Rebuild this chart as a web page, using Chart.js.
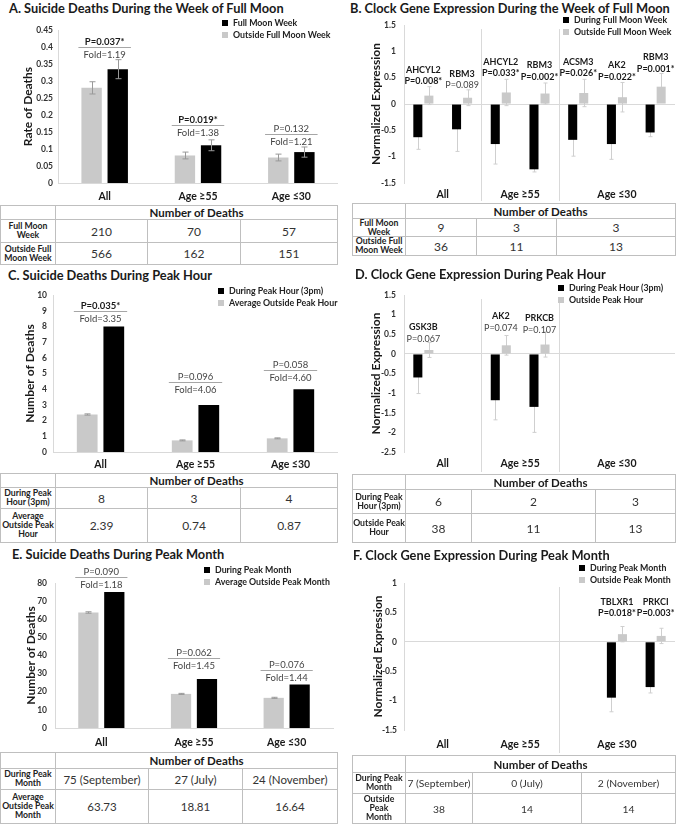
<!DOCTYPE html>
<html>
<head>
<meta charset="utf-8">
<script src="https://cdn.jsdelivr.net/npm/chart.js@4.4.1/dist/chart.umd.min.js"></script>
<style>
  body { margin: 0; background: #fff; }
  #page { position: relative; width: 676px; height: 826px; overflow: hidden; font-family: Lato, 'Open Sans', sans-serif; color: #1a1a1a; }
  .title { position: absolute; font-weight: bold; font-size: 12.8px; line-height: 14px; white-space: nowrap; }
  .box { position: absolute; }
  .legend { position: absolute; font-size: 8.8px; font-weight: bold; line-height: 11.5px; white-space: nowrap; color: #222; }
  .legend i { display: inline-block; width: 6px; height: 6px; margin-right: 5px; }
  table.tbl { position: absolute; border-collapse: collapse; table-layout: fixed; }
  table.tbl td { border: 1px solid #bfbfbf; padding: 0; text-align: center; vertical-align: middle; overflow: hidden; white-space: nowrap; }
  td.rl { font-weight: bold; font-size: 8.7px; line-height: 8.7px; color: #222; }
  td.hd { font-weight: bold; font-size: 11.5px; }
  td.num { font-size: 12px; color: #333; }
</style>
</head>
<body>
<div id="page"></div>
<script>
// --- dados ---
const groups = ['All', 'Age ≥55', 'Age ≤30'];

// A. semana de lua cheia
const moonOutsideRate = [0.28, 0.081, 0.075];
const moonOutsideErr = [0.018, 0.01, 0.01];
const moonWeekRate = [0.335, 0.111, 0.091];
const moonWeekErr = [0.028, 0.016, 0.015];
const moonP = ['P=0.037*', 'P=0.019*', 'P=0.132'];
const moonFold = ['Fold=1.19', 'Fold=1.38', 'Fold=1.21'];
const moonBracket = [0.40, 0.172, 0.143];
const moonDeathsWeek = ['210', '70', '57'];
const moonDeathsOutside = ['566', '162', '151'];

// B. genes, lua cheia
const moonGenes = ['AHCYL2', 'RBM3', 'AHCYL2', 'RBM3', 'ACSM3', 'AK2', 'RBM3'];
const moonGeneDuring = [-0.63, -0.48, -0.76, -1.24, -0.68, -0.76, -0.54];
const moonGeneDuringErr = [0.23, 0.42, 0.38, 0.05, 0.31, 0.29, 0.08];
const moonGeneOutside = [0.16, 0.12, 0.22, 0.2, 0.21, 0.13, 0.33];
const moonGeneOutsideErr = [0.17, 0.15, 0.25, 0.2, 0.26, 0.28, 0.25];
const moonGeneP = ['P=0.008*', 'P=0.089', 'P=0.033*', 'P=0.002*', 'P=0.026*', 'P=0.022*', 'P=0.001*'];
const moonGenePLevel = [0.43, 0.355, 0.58, 0.52, 0.58, 0.52, 0.67];
const moonGeneDeathsWeek = ['9', '3', '3'];
const moonGeneDeathsOutside = ['36', '11', '13'];

// C. hora de pico
const hourPeak = [8, 3, 4];
const hourOutside = [2.39, 0.74, 0.87];
const hourOutsideErr = [0.04, 0.03, 0.03];
const hourP = ['P=0.035*', 'P=0.096', 'P=0.058'];
const hourFold = ['Fold=3.35', 'Fold=4.06', 'Fold=4.60'];
const hourBracket = [8.98, 4.46, 5.22];
const hourDeathsPeak = ['8', '3', '4'];
const hourDeathsOutside = ['2.39', '0.74', '0.87'];

// D. genes, hora de pico
const hourGenes = ['GSK3B', '', 'AK2', 'PRKCB', '', '', ''];
const hourGeneDuring = [-0.6, null, -1.18, -1.35, null, null, null];
const hourGeneDuringErr = [0.41, null, 0.5, 0.65, null, null, null];
const hourGeneOutside = [0.1, null, 0.22, 0.24, null, null, null];
const hourGeneOutsideErr = [0.19, null, 0.25, 0.32, null, null, null];
const hourGeneP = ['P=0.067', '', 'P=0.074', 'P=0.107', '', '', ''];
const hourGenePLevel = [0.39, null, 0.66, 0.62, null, null, null];
const hourGeneDeathsPeak = ['6', '2', '3'];
const hourGeneDeathsOutside = ['38', '11', '13'];

// E. mês de pico
const monthPeak = [75, 27, 24];
const monthOutside = [63.73, 18.81, 16.64];
const monthOutsideErr = [0.4, 0.3, 0.3];
const monthP = ['P=0.090', 'P=0.062', 'P=0.076'];
const monthFold = ['Fold=1.18', 'Fold=1.45', 'Fold=1.44'];
const monthBracket = [83.3, 38.6, 32];
const monthDeathsPeak = ['75 (September)', '27 (July)', '24 (November)'];
const monthDeathsOutside = ['63.73', '18.81', '16.64'];

// F. genes, mês de pico
const monthGenes = ['', '', '', '', '', 'TBLXR1', 'PRKCI'];
const monthGeneDuring = [null, null, null, null, null, -0.95, -0.77];
const monthGeneDuringErr = [null, null, null, null, null, 0.24, 0.1];
const monthGeneOutside = [null, null, null, null, null, 0.13, 0.1];
const monthGeneOutsideErr = [null, null, null, null, null, 0.13, 0.13];
const monthGeneP = ['', '', '', '', '', 'P=0.018*', 'P=0.003*'];
const monthGenePLevel = [null, null, null, null, null, 0.48, 0.48];
const monthGeneDeathsPeak = ['7 (September)', '0 (July)', '2 (November)'];
const monthGeneDeathsOutside = ['38', '14', '14'];

// grupos de idade sobre os 7 genes (primeiro e último índice)
const geneGroups = [['All', 0, 1], ['Age ≥55', 2, 3], ['Age ≤30', 4, 6]];

// --- estilo ---
const GRAY = '#c9c9c9', BLACK = '#000', AXIS = '#d9d9d9';
const FONT = 'Lato, "Open Sans", sans-serif';
Chart.defaults.font.family = FONT;
const page = document.getElementById('page');

// Barras de erro (desenhadas sobre ou atrás das barras)
function paintErrors(chart, opts) {
  const { ctx } = chart;
  const ys = chart.scales.y;
  chart.data.datasets.forEach((ds, di) => {
    if (!ds.err) return;
    chart.getDatasetMeta(di).data.forEach((bar, i) => {
      const v = ds.data[i], e = ds.err[i];
      if (v == null || !e) return;
      const x = Math.round(bar.x) + 0.5;
      const top = ys.getPixelForValue(v + e), bot = ys.getPixelForValue(v - e);
      ctx.save();
      ctx.strokeStyle = opts.color;
      ctx.lineWidth = 1;
      ctx.beginPath();
      ctx.moveTo(x, top); ctx.lineTo(x, bot);
      ctx.moveTo(x - opts.cap, top); ctx.lineTo(x + opts.cap, top);
      ctx.moveTo(x - opts.cap, bot); ctx.lineTo(x + opts.cap, bot);
      ctx.stroke();
      ctx.restore();
    });
  });
}
const errorBars = {
  id: 'errorBars',
  beforeDatasetsDraw(chart, args, opts) { if (opts.behind) paintErrors(chart, opts); },
  afterDatasetsDraw(chart, args, opts) { if (!opts.behind) paintErrors(chart, opts); }
};

// Linha de P / Fold acima de cada par
const brackets = {
  id: 'brackets',
  afterDraw(chart, args, o) {
    if (!o.levels) return;
    const { ctx } = chart;
    const ys = chart.scales.y;
    const m0 = chart.getDatasetMeta(0), m1 = chart.getDatasetMeta(1);
    o.levels.forEach((lv, i) => {
      const b0 = m0.data[i], b1 = m1.data[i];
      const x1 = b0.x - b0.width / 2 - 3, x2 = b1.x + b1.width / 2 + 3;
      const yy = Math.round(ys.getPixelForValue(lv)) + 0.5;
      const cx = (x1 + x2) / 2;
      ctx.save();
      ctx.strokeStyle = '#a6a6a6';
      ctx.lineWidth = 1;
      ctx.beginPath(); ctx.moveTo(x1, yy); ctx.lineTo(x2, yy); ctx.stroke();
      ctx.textAlign = 'center';
      ctx.textBaseline = 'middle';
      const star = o.p[i].includes('*');
      ctx.font = (star ? 'bold ' : '') + '9.5px ' + FONT;
      ctx.fillStyle = star ? '#1a1a1a' : '#444';
      ctx.fillText(o.p[i], cx, yy - 6);
      ctx.font = '9.5px ' + FONT;
      ctx.fillStyle = '#444';
      ctx.fillText(o.fold[i], cx, yy + 7);
      ctx.restore();
    });
  }
};

// Nomes dos genes, P, separadores e rótulos de grupo
const geneLabels = {
  id: 'geneLabels',
  afterDraw(chart, args, o) {
    const { ctx, chartArea: area } = chart;
    const xs = chart.scales.x, ys = chart.scales.y;
    ctx.save();
    ctx.strokeStyle = AXIS;
    ctx.lineWidth = 1;
    o.separators.forEach(s => {
      const x = Math.round(xs.getPixelForValue(s)) + 0.5;
      ctx.beginPath(); ctx.moveTo(x, area.top + 4); ctx.lineTo(x, chart.height - 2); ctx.stroke();
    });
    ctx.textAlign = 'center';
    ctx.textBaseline = 'middle';
    ctx.fillStyle = '#1a1a1a';
    ctx.font = 'bold 10.5px ' + FONT;
    geneGroups.forEach(([label, a, b]) => {
      const cx = (xs.getPixelForValue(a - 0.5) + xs.getPixelForValue(b + 0.5)) / 2;
      ctx.fillText(label, cx, area.bottom + o.groupGap);
    });
    o.genes.forEach((g, i) => {
      if (!g) return;
      const x = xs.getPixelForValue(i);
      const y = ys.getPixelForValue(o.pLevel[i]);
      ctx.font = 'bold 9px ' + FONT;
      ctx.fillStyle = '#1a1a1a';
      ctx.fillText(g, x, y - 11.5);
      const star = o.p[i].includes('*');
      ctx.font = (star ? 'bold ' : '') + '9px ' + FONT;
      ctx.fillStyle = star ? '#1a1a1a' : '#444';
      ctx.fillText(o.p[i], x, y);
    });
    ctx.restore();
  }
};

function addBox(b) {
  const d = document.createElement('div');
  d.className = 'box';
  Object.assign(d.style, { left: b.left + 'px', top: b.top + 'px', width: b.w + 'px', height: b.h + 'px' });
  const c = document.createElement('canvas');
  d.appendChild(c);
  page.appendChild(d);
  return c;
}

function addTitle(text, left, cy) {
  const d = document.createElement('div');
  d.className = 'title';
  d.style.left = left + 'px';
  d.style.top = (cy - 7) + 'px';
  d.textContent = text;
  page.appendChild(d);
}

function addLegend(left, cy, items) {
  const d = document.createElement('div');
  d.className = 'legend';
  d.style.left = left + 'px';
  d.style.top = (cy - 5.75) + 'px';
  items.forEach(([label, color]) => {
    const r = document.createElement('div');
    r.innerHTML = '<i style="background:' + color + '"></i>' + label;
    d.appendChild(r);
  });
  page.appendChild(d);
}

function addTable(spec, rowLabels, rows) {
  const t = document.createElement('table');
  t.className = 'tbl';
  t.style.left = spec.left + 'px';
  t.style.top = spec.top + 'px';
  t.style.width = spec.cols.reduce((a, b) => a + b, 0) + 'px';
  const cg = document.createElement('colgroup');
  spec.cols.forEach(w => { const c = document.createElement('col'); c.style.width = w + 'px'; cg.appendChild(c); });
  t.appendChild(cg);
  const head = t.insertRow();
  head.style.height = spec.rows[0] + 'px';
  head.insertCell();
  const h = head.insertCell();
  h.colSpan = 3; h.className = 'hd'; h.textContent = 'Number of Deaths';
  rows.forEach((vals, r) => {
    const tr = t.insertRow();
    tr.style.height = spec.rows[r + 1] + 'px';
    const lc = tr.insertCell();
    lc.className = 'rl';
    lc.innerHTML = rowLabels[r].join('<br>');
    vals.forEach(v => {
      const c = tr.insertCell();
      c.className = 'num';
      if (spec.numSize) c.style.fontSize = spec.numSize + 'px';
      c.textContent = v;
    });
  });
  page.appendChild(t);
}

function deathChart(o) {
  const canvas = addBox(o.box);
  return new Chart(canvas, {
    type: 'bar',
    data: {
      labels: groups,
      datasets: [
        { label: o.grayLabel, data: o.gray, err: o.grayErr, backgroundColor: GRAY, categoryPercentage: 0.56, barPercentage: 0.78 },
        { label: o.blackLabel, data: o.black, err: o.blackErr, backgroundColor: BLACK, categoryPercentage: 0.56, barPercentage: 0.78 }
      ]
    },
    options: {
      responsive: true,
      maintainAspectRatio: false,
      animation: false,
      layout: { padding: { top: o.padTop, right: o.padRight, left: 0, bottom: 0 } },
      plugins: {
        legend: { display: false },
        tooltip: { enabled: false },
        errorBars: { color: '#999', cap: 3, behind: false },
        brackets: { levels: o.levels, p: o.p, fold: o.fold }
      },
      scales: {
        x: {
          grid: { display: false, drawTicks: false },
          border: { color: AXIS },
          ticks: { color: '#1a1a1a', font: { size: 10.5, weight: 'bold' }, padding: o.xPad },
          afterFit: s => { s.height = o.xH; }
        },
        y: {
          min: 0, max: o.max,
          grid: { display: false, drawTicks: false },
          border: { color: AXIS },
          ticks: { stepSize: o.step, color: '#333', font: { size: 8.5, weight: 'bold' }, padding: o.yPad,
                   callback: v => String(+v.toFixed(2)) },
          title: { display: true, text: o.yTitle, color: '#1a1a1a', font: { size: 12, weight: 'bold' },
                   padding: { top: o.titlePad, bottom: 0 } },
          afterFit: s => { s.width = o.yW; }
        }
      }
    },
    plugins: [errorBars, brackets]
  });
}

function geneChart(o) {
  const canvas = addBox(o.box);
  return new Chart(canvas, {
    type: 'bar',
    data: {
      labels: o.genes,
      datasets: [
        { label: o.blackLabel, data: o.during, err: o.duringErr, backgroundColor: BLACK, categoryPercentage: 0.57, barPercentage: 0.82 },
        { label: o.grayLabel, data: o.outside, err: o.outsideErr, backgroundColor: GRAY, categoryPercentage: 0.57, barPercentage: 0.82 }
      ]
    },
    options: {
      responsive: true,
      maintainAspectRatio: false,
      animation: false,
      layout: { padding: { top: o.padTop, right: 1, left: 0, bottom: 0 } },
      plugins: {
        legend: { display: false },
        tooltip: { enabled: false },
        errorBars: { color: '#cfcfcf', cap: 2, behind: true },
        geneLabels: { genes: o.genes, p: o.p, pLevel: o.pLevel, separators: o.separators, groupGap: o.groupGap }
      },
      scales: {
        x: {
          grid: { display: false, drawTicks: false },
          border: { display: false },
          ticks: { display: false },
          afterFit: s => { s.height = o.xH; }
        },
        y: {
          min: o.min, max: o.max,
          grid: { drawTicks: false, color: c => (c.tick && c.tick.value === 0 ? AXIS : 'rgba(0,0,0,0)') },
          border: { color: AXIS },
          ticks: { stepSize: 0.5, color: '#333', font: { size: 8.5, weight: 'bold' }, padding: o.yPad,
                   callback: v => String(+v.toFixed(1)) },
          title: { display: true, text: 'Normalized Expression', color: '#1a1a1a', font: { size: 12, weight: 'bold' },
                   padding: { top: o.titlePad, bottom: 0 } },
          afterFit: s => { s.width = o.yW; }
        }
      }
    },
    plugins: [errorBars, geneLabels]
  });
}

// --- A ---
addTitle('A. Suicide Deaths During the Week of Full Moon', 9, 8);
deathChart({
  box: { left: 0, top: 20, w: 338, h: 185 }, padTop: 9, padRight: 0, yW: 58, xH: 22, xPad: 7, yPad: 5, titlePad: 21,
  max: 0.45, step: 0.05, yTitle: 'Rate of Deaths',
  grayLabel: 'Outside Full Moon Week', gray: moonOutsideRate, grayErr: moonOutsideErr,
  blackLabel: 'Full Moon Week', black: moonWeekRate, blackErr: moonWeekErr,
  levels: moonBracket, p: moonP, fold: moonFold
});
addLegend(222, 23, [['Full Moon Week', BLACK], ['Outside Full Moon Week', GRAY]]);
addTable({ left: 0, top: 205, cols: [55, 92, 93, 97], rows: [13, 23, 22] },
  [['Full Moon', 'Week'], ['Outside Full', 'Moon Week']], [moonDeathsWeek, moonDeathsOutside]);

// --- B ---
addTitle('B. Clock Gene Expression During the Week of Full Moon', 350, 8);
geneChart({
  box: { left: 338, top: 12, w: 338, h: 191 }, padTop: 10, yW: 66, xH: 20, yPad: 8, titlePad: 31, groupGap: 12,
  min: -1.5, max: 1.5, genes: moonGenes,
  blackLabel: 'During Full Moon Week', during: moonGeneDuring, duringErr: moonGeneDuringErr,
  grayLabel: 'Outside Full Moon Week', outside: moonGeneOutside, outsideErr: moonGeneOutsideErr,
  p: moonGeneP, pLevel: moonGenePLevel, separators: [1.5, 3.5]
});
addLegend(563, 20, [['During Full Moon Week', BLACK], ['Outside Full Moon Week', GRAY]]);
addTable({ left: 352, top: 203, cols: [53, 71, 80, 119], rows: [15, 17, 18] },
  [['Full Moon', 'Week'], ['Outside Full', 'Moon Week']], [moonGeneDeathsWeek, moonGeneDeathsOutside]);

// --- C ---
addTitle('C. Suicide Deaths During Peak Hour', 8, 275);
deathChart({
  box: { left: 0, top: 284, w: 338, h: 189 }, padTop: 11, padRight: 0, yW: 53, xH: 21, xPad: 6, yPad: 6, titlePad: 23,
  max: 10, step: 1, yTitle: 'Number of Deaths',
  grayLabel: 'Average Outside Peak Hour', gray: hourOutside, grayErr: hourOutsideErr,
  blackLabel: 'During Peak Hour (3pm)', black: hourPeak, blackErr: null,
  levels: hourBracket, p: hourP, fold: hourFold
});
addLegend(218, 291, [['During Peak Hour (3pm)', BLACK], ['Average Outside Peak Hour', GRAY]]);
addTable({ left: 0, top: 473, cols: [55, 92, 93, 97], rows: [14, 21, 34] },
  [['During Peak', 'Hour (3pm)'], ['Average', 'Outside Peak', 'Hour']], [hourDeathsPeak, hourDeathsOutside]);

// --- D ---
addTitle('D. Clock Gene Expression During Peak Hour', 355, 274);
geneChart({
  box: { left: 338, top: 282, w: 338, h: 192 }, padTop: 8, yW: 66, xH: 22, yPad: 8, titlePad: 31, groupGap: 12,
  min: -2.5, max: 1.5, genes: hourGenes,
  blackLabel: 'During Peak Hour (3pm)', during: hourGeneDuring, duringErr: hourGeneDuringErr,
  grayLabel: 'Outside Peak Hour', outside: hourGeneOutside, outsideErr: hourGeneOutsideErr,
  p: hourGeneP, pLevel: hourGenePLevel, separators: [1.5, 3.5]
});
addLegend(558, 288, [['During Peak Hour (3pm)', BLACK], ['Outside Peak Hour', GRAY]]);
addTable({ left: 352, top: 474, cols: [53, 66, 124, 80], rows: [15, 24, 29] },
  [['During Peak', 'Hour (3pm)'], ['Outside Peak', 'Hour']], [hourGeneDeathsPeak, hourGeneDeathsOutside]);

// --- E ---
addTitle('E. Suicide Deaths During Peak Month', 12, 554);
deathChart({
  box: { left: 0, top: 562, w: 338, h: 190 }, padTop: 21, padRight: 5, yW: 55, xH: 24, xPad: 8, yPad: 8, titlePad: 24,
  max: 80, step: 10, yTitle: 'Number of Deaths',
  grayLabel: 'Average Outside Peak Month', gray: monthOutside, grayErr: monthOutsideErr,
  blackLabel: 'During Peak Month', black: monthPeak, blackErr: null,
  levels: monthBracket, p: monthP, fold: monthFold
});
addLegend(204, 570, [['During Peak Month', BLACK], ['Average Outside Peak Month', GRAY]]);
addTable({ left: 0, top: 752, cols: [55, 93, 94, 95], rows: [16, 21, 34], numSize: 11.5 },
  [['During Peak', 'Month'], ['Average', 'Outside Peak', 'Month']], [monthDeathsPeak, monthDeathsOutside]);

// --- F ---
addTitle('F. Clock Gene Expression During Peak Month', 353, 555);
geneChart({
  box: { left: 338, top: 565, w: 338, h: 190 }, padTop: 18, yW: 66, xH: 25, yPad: 7, titlePad: 33, groupGap: 15,
  min: -1.5, max: 1, genes: monthGenes,
  blackLabel: 'During Peak Month', during: monthGeneDuring, duringErr: monthGeneDuringErr,
  grayLabel: 'Outside Peak Month', outside: monthGeneOutside, outsideErr: monthGeneOutsideErr,
  p: monthGeneP, pLevel: monthGenePLevel, separators: [3.5]
});
addLegend(579, 568, [['During Peak Month', BLACK], ['Outside Peak Month', GRAY]]);
addTable({ left: 352, top: 755, cols: [53, 67, 109, 94], rows: [17, 21, 30], numSize: 10.3 },
  [['During Peak', 'Month'], ['Outside', 'Peak', 'Month']], [monthGeneDeathsPeak, monthGeneDeathsOutside]);
</script>
</body>
</html>
